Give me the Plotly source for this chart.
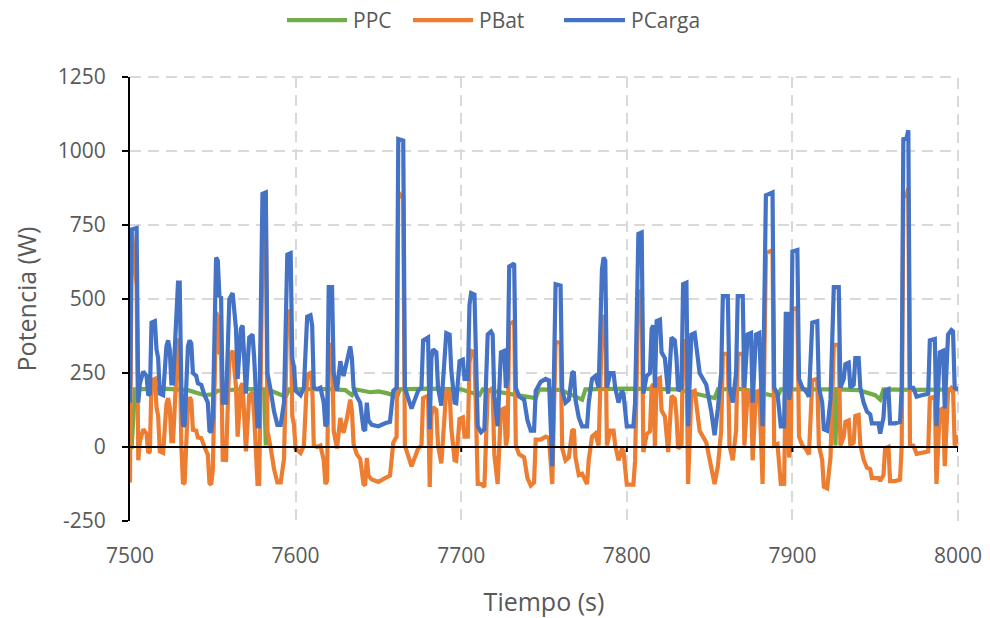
import plotly.graph_objects as go

# ---------------- data ----------------
t_s = [7500, 7501, 7504, 7505, 7506, 7508, 7510, 7511, 7512, 7513, 7515, 7516, 7517, 7518, 7520,
       7522, 7523, 7524, 7525, 7526, 7529, 7530, 7531, 7532, 7533, 7535, 7536, 7537, 7538, 7540,
       7541, 7543, 7545, 7547, 7548, 7549, 7550, 7552, 7553, 7554, 7555, 7556, 7558, 7560, 7562,
       7563, 7564, 7565, 7567, 7568, 7569, 7570, 7572, 7574, 7575, 7577, 7578, 7580, 7582, 7583,
       7585, 7587, 7589, 7591, 7593, 7595, 7597, 7598, 7599, 7600, 7603, 7605, 7607, 7609, 7610,
       7611, 7613, 7615, 7617, 7618, 7619, 7620, 7622, 7623, 7625, 7627, 7628, 7629, 7631, 7633,
       7634, 7635, 7637, 7639, 7641, 7642, 7643, 7644, 7646, 7650, 7654, 7657, 7659, 7661, 7662,
       7665, 7666, 7668, 7670, 7672, 7674, 7676, 7677, 7680, 7681, 7682, 7683, 7685, 7686, 7688,
       7690, 7691, 7693, 7694, 7696, 7697, 7699, 7701, 7702, 7704, 7705, 7706, 7708, 7709, 7710,
       7712, 7714, 7716, 7718, 7719, 7720, 7722, 7724, 7726, 7727, 7728, 7729, 7732, 7733, 7735,
       7738, 7740, 7742, 7744, 7745, 7748, 7751, 7753, 7755, 7757, 7760, 7761, 7763, 7765, 7767,
       7768, 7769, 7771, 7773, 7776, 7777, 7779, 7781, 7783, 7785, 7786, 7787, 7788, 7790, 7792,
       7793, 7795, 7797, 7798, 7800, 7804, 7805, 7807, 7809, 7810, 7812, 7814, 7815, 7816, 7817,
       7818, 7820, 7821, 7823, 7825, 7826, 7827, 7829, 7830, 7831, 7833, 7834, 7836, 7837, 7839,
       7841, 7842, 7844, 7848, 7851, 7853, 7855, 7857, 7858, 7861, 7862, 7864, 7866, 7867, 7870,
       7871, 7873, 7875, 7876, 7878, 7880, 7882, 7884, 7888, 7889, 7891, 7893, 7895, 7896, 7897,
       7898, 7899, 7900, 7903, 7904, 7906, 7908, 7910, 7912, 7915, 7916, 7918, 7919, 7921, 7923,
       7925, 7928, 7929, 7931, 7932, 7934, 7935, 7937, 7938, 7940, 7941, 7943, 7945, 7947, 7948,
       7952, 7953, 7955, 7956, 7958, 7959, 7962, 7965, 7966, 7967, 7969, 7970, 7971, 7973, 7975,
       7978, 7982, 7983, 7986, 7987, 7989, 7991, 7992, 7994, 7996, 7997, 7998, 8000]

p_carga = [150, 735, 740, 150, 215, 255, 240, 175, 180, 420, 425, 330, 300, 180, 175,
           340, 360, 330, 215, 215, 555, 555, 200, 70, 75, 340, 360, 350, 250, 240,
           215, 210, 175, 150, 55, 50, 100, 640, 630, 510, 505, 150, 150, 500, 520,
           470, 400, 230, 400, 410, 250, 180, 370, 380, 300, 70, 70, 855, 860, 250,
           190, 120, 75, 75, 150, 650, 655, 300, 270, 190, 175, 200, 440, 445, 410,
           200, 195, 200, 150, 70, 80, 540, 540, 250, 190, 290, 260, 240, 290, 340,
           300, 200, 170, 150, 60, 55, 150, 90, 75, 70, 80, 85, 190, 200, 1040,
           1035, 200, 170, 130, 160, 190, 200, 360, 370, 60, 300, 330, 320, 200, 140,
           330, 385, 380, 260, 150, 148, 290, 295, 230, 230, 480, 520, 515, 300, 70,
           50, 60, 380, 390, 380, 170, 70, 320, 325, 200, 230, 610, 620, 200, 170,
           160, 90, 55, 55, 190, 220, 230, 225, -65, 550, 545, 190, 150, 160, 250,
           255, 160, 100, 70, 70, 150, 230, 240, 200, 600, 640, 630, 200, 250, 250,
           200, 150, 190, 180, 70, 70, 150, 720, 725, 180, 240, 250, 400, 410, 200,
           425, 430, 320, 300, 180, 300, 370, 360, 300, 190, 200, 550, 555, 70, 380,
           385, 340, 250, 210, 120, 40, 130, 250, 510, 510, 200, 150, 250, 510, 510,
           200, 380, 385, 150, 380, 385, 70, 850, 860, 200, 180, 70, 70, 450, 450,
           160, 200, 660, 665, 230, 200, 190, 170, 420, 425, 200, 150, 60, 55, 160,
           540, 540, 200, 230, 280, 285, 200, 210, 300, 300, 200, 150, 120, 110, 80,
           80, 45, 100, 190, 195, 80, 80, 85, 200, 1040, 1045, 1070, 200, 200, 170,
           175, 180, 360, 365, 70, 320, 325, 130, 380, 395, 390, 200, 195]

p_bat = [-120, 735, 545, -45, 20, 60, 45, -20, -15, 225, 230, 135, 105, -15, -20,
         145, 165, 135, 20, 20, 360, 360, 5, -125, -120, 148, 168, 158, 58, 55,
         32, 30, 0, -26, -122, -127, -78, 455, 440, 318, 312, -43, -44, 305, 325,
         275, 205, 35, 205, 215, 55, -15, 175, 185, 105, -125, -125, 660, 855, 55,
         -5, -75, -120, -120, -40, 455, 460, 105, 75, -5, -20, 5, 245, 250, 215,
         5, 0, 5, -45, -125, -115, 345, 345, 55, -5, 98, 68, 48, 98, 160,
         125, 10, -25, -40, -125, -130, -37, -97, -110, -118, -105, -97, 15, 35, 860,
         840, 5, -25, -65, -35, -5, 5, 165, 173, -135, 105, 135, 125, 5, -55,
         135, 190, 185, 65, -45, -47, 95, 100, 35, 35, 285, 325, 320, 105, -125,
         -125, -135, 185, 195, 185, -25, -125, 125, 130, 5, 35, 415, 425, 5, -25,
         -35, -105, -130, -120, 25, 25, 35, 30, -125, 355, 352, -5, -45, -35, 55,
         60, -35, -95, -90, -125, -45, 35, 45, 5, 405, 445, 435, 5, 55, 55,
         5, -45, -5, -15, -127, -127, -47, 523, 528, -17, 43, 53, 203, 213, 3,
         228, 233, 123, 103, -17, 103, 173, 163, 105, -5, 5, 355, 360, -125, 185,
         190, 145, 55, 15, -75, -125, -65, 55, 315, 315, 5, -45, 55, 315, 314,
         5, 185, 190, -45, 185, 190, -125, 655, 665, 5, 10, -125, -125, 255, 255,
         -35, 5, 465, 470, 35, 5, -5, -25, 225, 230, 5, -45, -135, -140, -35,
         345, 345, 5, 35, 85, 90, 5, 15, 105, 108, 8, -42, -70, -75, -105,
         -105, -115, -95, -5, 0, -115, -115, -110, 5, 845, 850, 875, 5, 5, -23,
         -20, -15, 165, 170, -125, 125, 130, -65, 185, 200, 195, 5, 40]

t_ppc = [7500, 7501, 7503, 7520, 7535, 7540, 7545, 7550, 7553, 7570, 7581, 7582, 7583, 7594,
         7596, 7620, 7630, 7634, 7636, 7645, 7650, 7655, 7659, 7661, 7663, 7680, 7700, 7711,
         7713, 7745, 7747, 7760, 7773, 7775, 7800, 7830, 7853, 7855, 7870, 7891, 7893, 7925,
         7926, 7927, 7940, 7950, 7953, 7955, 7975, 8000]
p_ppc = [0, 0, 195, 197, 192, 185, 175, 178, 190, 196, 195, 5, 195, 170,
         195, 196, 192, 175, 195, 185, 188, 182, 175, 165, 195, 197, 195, 175,
         195, 165, 195, 193, 160, 195, 197, 195, 165, 195, 196, 170, 195, 195,
         5, 195, 192, 175, 160, 195, 193, 195]

series_names = ["PPC", "PBat", "PCarga"]
series_colors = ["#70AD47", "#ED7D31", "#4472C4"]
x_ticks = [7500, 7600, 7700, 7800, 7900, 8000]
y_ticks = [-250, 0, 250, 500, 750, 1000, 1250]
y_tick_text = ["-250", "0", "250", "500", "750", "1000", "1250"]

# ---------------- figure ----------------
fig = go.Figure()
series = [(t_ppc, p_ppc), (t_s, p_bat), (t_s, p_carga)]
for (xs, ys), name, col in zip(series, series_names, series_colors):
    fig.add_trace(go.Scatter(x=xs, y=ys, mode="lines", name=name,
                             line=dict(color=col, width=4.2),
                             showlegend=False, hoverinfo="skip"))

txt_col = "#595959"
font_main = "Segoe UI, Open Sans, sans-serif"
grid_col = "#D9D9D9"
grid_dash = "11px,7px"

shapes = []
# dashed frame lines on right and top edges (gridlines at range ends)
shapes.append(dict(type="line", xref="paper", yref="paper", x0=1, x1=1, y0=0, y1=1,
                   line=dict(color=grid_col, width=2, dash=grid_dash), layer="below"))
shapes.append(dict(type="line", xref="paper", yref="paper", x0=0, x1=1, y0=1, y1=1,
                   line=dict(color=grid_col, width=2, dash=grid_dash), layer="below"))
# horizontal axis line at y=0 with small tick marks
shapes.append(dict(type="line", xref="x", yref="y", x0=7500, x1=8000, y0=0, y1=0,
                   line=dict(color="black", width=2)))
for xv in x_ticks[1:]:
    shapes.append(dict(type="line", xref="x", yref="y", x0=xv, x1=xv, y0=0, y1=-17,
                       line=dict(color="black", width=2)))

# manual legend (top centre)
leg_y = 1.128
leg_items = [(0.1896, 0.2621, 0.2666), (0.3418, 0.4143, 0.4188), (0.5242, 0.5978, 0.6023)]
annotations = []
for (xa, xb, xt), name, col in zip(leg_items, series_names, series_colors):
    shapes.append(dict(type="line", xref="paper", yref="paper", x0=xa, x1=xb,
                       y0=leg_y, y1=leg_y, line=dict(color=col, width=4.2)))
    annotations.append(dict(xref="paper", yref="paper", x=xt, y=leg_y, text=name,
                            showarrow=False, xanchor="left", yanchor="middle",
                            font=dict(family=font_main, size=21, color=txt_col)))

fig.update_layout(
    width=990, height=618,
    margin=dict(l=130, r=32, t=77, b=97, autoexpand=False),
    paper_bgcolor="white", plot_bgcolor="white",
    shapes=shapes, annotations=annotations,
    font=dict(family=font_main, color=txt_col),
    xaxis=dict(range=[7500, 8000], tickvals=x_ticks, ticks="", showline=False,
               automargin=False, ticklabeloverflow="allow",
               zeroline=False, showgrid=True, gridcolor=grid_col, griddash=grid_dash,
               gridwidth=2, tickfont=dict(size=21, color=txt_col),
               ticklabelstandoff=20,
               title=dict(text="Tiempo (s)", font=dict(size=25, color=txt_col), standoff=27)),
    yaxis=dict(range=[-250, 1250], tickvals=y_ticks, ticktext=y_tick_text,
               automargin=False, ticklabeloverflow="allow",
               ticks="outside", ticklen=6, tickwidth=2, tickcolor="black",
               showline=True, linecolor="black", linewidth=2,
               zeroline=False, showgrid=True, gridcolor=grid_col, griddash=grid_dash,
               gridwidth=2, tickfont=dict(size=21, color=txt_col),
               ticklabelstandoff=12,
               title=dict(text="Potencia (W)", font=dict(size=25, color=txt_col), standoff=14)),
)

fig.write_html("out.html", config={"displayModeBar": False},
               post_script="document.body.style.margin='0px';document.body.style.overflow='hidden';")
